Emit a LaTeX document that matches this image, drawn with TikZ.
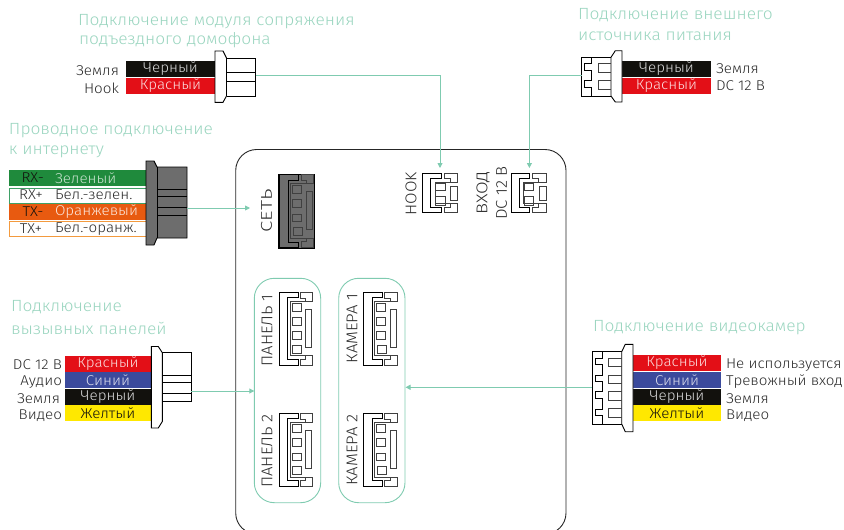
\documentclass[tikz,border=0pt]{standalone}
\usepackage{fontspec}
\usepackage{graphicx}
\setmainfont[FakeStretch=1.07]{Fira Sans Light}
\usetikzlibrary{arrows.meta}
\definecolor{mint}{HTML}{7FCBB0}
\definecolor{minttxt}{HTML}{9AD5BF}
\definecolor{wblack}{HTML}{12110D}
\definecolor{wred}{HTML}{E30F17}
\definecolor{wblue}{HTML}{3B4A9C}
\definecolor{wyellow}{HTML}{FFE800}
\definecolor{wgreen}{HTML}{1F8A3C}
\definecolor{worange}{HTML}{E85A10}
\definecolor{oline}{HTML}{F39A3E}
\definecolor{gline}{HTML}{3FA066}
\definecolor{plug}{HTML}{6D6D6D}
\definecolor{ink}{HTML}{2B2B2B}
\tikzset{
  every node/.style={inner sep=0pt,outer sep=0pt},
  title/.style={anchor=west,text=minttxt,yshift=-1.5pt,font=\fontsize{16.2}{16.2}\selectfont},
  lab/.style={text=ink,font=\fontsize{14.2}{14.2}\selectfont},
  labr/.style={lab,anchor=east,yshift=-1pt},
  labl/.style={lab,anchor=west,yshift=-1pt},
  wirebox/.style={minimum width=#1,minimum height=16pt,font=\fontsize{14.2}{14.2}\selectfont},
  wirebox/.default=89pt,
  port/.style={text=ink,rotate=90,font=\fontsize{15.6}{15.6}\selectfont},
  link/.style={draw=mint,line width=0.9pt,-{Triangle[length=5pt,width=5pt]}},
  part/.style={draw=black,line width=0.9pt,line join=miter},
  thin part/.style={draw=black!75,line width=0.8pt},
  group/.style={draw=mint,line width=0.9pt,rounded corners=20pt},
}
\newcommand{\sockfour}[3]{%
\begin{scope}[shift={(#1,#2)},#3]
 \draw[part] (0,0)--(19.3,0)--(19.3,5.5)--(8.7,5.5)--(8.7,67.5)--(19.3,67.5)--(19.3,73)--(0,73)--cycle;
 \draw[thin part] (21.3,0)--(33.7,0)--(33.7,9.3)--(26.7,9.3)--(26.7,6)--(21.3,6)--cycle;
 \draw[thin part] (21.3,73)--(33.7,73)--(33.7,63.7)--(26.7,63.7)--(26.7,67)--(21.3,67)--cycle;
 \draw[thin part] (26.7,9.3)--(11.5,9.3)--(11.5,63.7)--(26.7,63.7);
 \draw[thin part] (26.7,17.3) rectangle (32.7,55.3);
 \draw[thin part] (13,11.3) rectangle (22,19.3);
 \draw[thin part] (13,25.3) rectangle (22,33.3);
 \draw[thin part] (13,39.7) rectangle (22,47.3);
 \draw[thin part] (13.7,53.3) rectangle (22.7,61.3);
\end{scope}}
\newcommand{\socktwo}[2]{%
\begin{scope}[shift={(#1,#2)}]
 \draw[part] (0,0)--(18.3,0)--(18.3,5.4)--(8,5.4)--(8,33.9)--(18.3,33.9)--(18.3,39.4)--(0,39.4)--cycle;
 \draw[thin part] (21.6,0)--(35,0)--(35,9)--(27.3,9)--(27.3,5.4)--(21.6,5.4)--cycle;
 \draw[thin part] (21.6,39.4)--(35,39.4)--(35,30.4)--(27.3,30.4)--(27.3,34)--(21.6,34)--cycle;
 \draw[thin part] (27.3,9)--(12.3,9)--(12.3,30.4)--(27.3,30.4);
 \draw[thin part] (28,13.4) rectangle (35,26.7);
 \draw[thin part] (13,10) rectangle (22.3,17.4);
 \draw[thin part] (13,23.4) rectangle (22.3,31.7);
\end{scope}}
\begin{document}
\begin{tikzpicture}[x=1pt,y=-1pt]
\useasboundingbox (0,0) rectangle (844,530);
\clip (0,0) rectangle (844,530);

% main housing
\draw[line width=0.9pt,draw=black!85,rounded corners=21pt] (235.7,149.5) rectangle (566,534);
\draw[group] (254.3,278.3) rectangle (320.7,502.7);
\draw[group] (338.7,278.3) rectangle (405,502.7);

% titles
\node[title] (t1a) at (78,20) {Подключение модуля сопряжения};
\node[title] (t1b) at (79,38.5) {подъездного домофона};
\node[title] (t2a) at (578,13.5) {Подключение внешнего};
\node[title] (t2b) at (578,34.5) {источника питания};
\node[title] (t3a) at (9,129) {Проводное подключение};
\node[title] (t3b) at (9,150) {к интернету};
\node[title] (t4a) at (11,305.5) {Подключение};
\node[title] (t4b) at (11,327) {вызывных панелей};
\node[title] (t5) at (593,326.5) {Подключение видеокамер};

% intercom module plug
\node[wirebox,fill=wblack,text=white!85!black] (a1) at (170.5,69) {Черный};
\node[wirebox,fill=wred,text=white!85!wred] (a2) at (170.5,86) {Красный};
\node[labr] (a1l) at (119,70) {Земля};
\node[labr] (a2l) at (119,87) {Hook};
\draw[part,fill=white] (215,51)--(223,51)--(226.5,58)--(226.5,96)--(223,102.3)--(215,102.3)--cycle;
\draw[part] (226.5,58)--(255.5,58)--(255.5,96)--(226.5,96) (226.5,72.5)--(255.5,72.5) (226.5,81)--(255.5,81);
\coordinate (aout) at (255.5,75);

% power plug
\node[wirebox,fill=wblack,text=white!85!black] (b1) at (666.5,69) {Черный};
\node[wirebox,fill=wred,text=white!85!wred] (b2) at (666.5,86) {Красный};
\node[labl] (b1l) at (716,67.5) {Земля};
\node[labl] (b2l) at (716,84.5) {DC 12 В};
\draw[part,fill=white] (611,57.3)--(615.3,50.7)--(622,50.7)--(622,102)--(615.3,102)--(611,96)--cycle;
\draw[part] (611,57.3)--(581.7,57.3)--(581.7,96)--(611,96);
\draw[part] (591.7,57.3)--(591.7,63.3)--(584.3,63.3)--(584.3,70.7)--(591.7,70.7)--(591.7,80)--(584.3,80)--(584.3,87.3)--(591.7,87.3)--(591.7,96);
\draw[thin part] (611,63.3)--(598.3,63.3)--(598.3,72.7)--(611,72.7) (611,80)--(598.3,80)--(598.3,89.3)--(611,89.3);
\coordinate (bout) at (581.7,75);

% network plug
\fill[wgreen] (9,170) rectangle (146,186);
\draw[gline,line width=0.9pt,fill=white] (9.5,188.5) rectangle (146,203);
\fill[worange] (9,204) rectangle (146,220);
\draw[oline,line width=0.9pt,fill=white] (9.5,221.5) rectangle (146,236.5);
\node[lab,text=wblack] (c1a) at (32.7,178) {RX-};
\node[labl,text=white!75!wgreen,yshift=1pt] (c1b) at (55,178) {Зеленый};
\node[lab] (c2a) at (31,195) {RX+};
\node[labl,yshift=1pt] (c2b) at (55,195) {Бел.-зелен.};
\node[lab,text=wblack] (c3a) at (33,212) {TX-};
\node[labl,text=white!85!worange,yshift=1pt] (c3b) at (55,212) {Оранжевый};
\node[lab] (c4a) at (31,229) {TX+};
\node[labl,yshift=1pt] (c4b) at (55,229) {Бел.-оранж.};
\draw[part,fill=plug] (146,161)--(154,161)--(157,167)--(187,167)--(187,238)--(157,238)--(154,245)--(146,245)--cycle;
\draw[part] (157,167)--(157,238);
\draw[part] (157,189.3)--(187,189.3) (157,196.7)--(187,196.7) (157,207.3)--(187,207.3) (157,215)--(187,215);
\coordinate (cout) at (187,208);

% call panel plug
\node[wirebox=86pt,fill=wred,text=white!85!wred] (d1) at (108,364) {Красный};
\node[wirebox=86pt,fill=wblue,text=white!80!wblue] (d2) at (108,380) {Синий};
\node[wirebox=86pt,fill=wblack,text=white!85!black] (d3) at (108,397) {Черный};
\node[wirebox=86pt,fill=wyellow,text=wblack] (d4) at (108,413) {Желтый};
\node[labr] (d1l) at (62,364) {DC 12 В};
\node[labr] (d2l) at (62,381) {Аудио};
\node[labr] (d3l) at (60,398) {Земля};
\node[labr] (d4l) at (62,415) {Видео};
\draw[part,fill=white] (151.3,346.5)--(158.3,346.5)--(162.3,352.7)--(162.3,421.5)--(158.3,428)--(151.3,428)--cycle;
\draw[part] (162.3,352.7)--(191,352.7)--(191,401)--(162.3,401);
\draw[part] (162.3,375)--(191,375) (162.3,382.3)--(191,382.3) (162.3,393.3)--(191,393.3);
\coordinate (dout) at (191,391);

% camera plug
\node[wirebox=88pt,fill=wred,text=white!85!wred] (e1) at (677,363) {Красный};
\node[wirebox=88pt,fill=wblue,text=white!80!wblue] (e2) at (677,380) {Синий};
\node[wirebox=88pt,fill=wblack,text=white!85!black] (e3) at (677,396.7) {Черный};
\node[wirebox=88pt,fill=wyellow,text=wblack] (e4) at (677,413) {Желтый};
\node[labl] (e1l) at (726,364) {Не используется};
\node[labl] (e2l) at (726,381) {Тревожный вход};
\node[labl] (e3l) at (726,398) {Земля};
\node[labl] (e4l) at (726,415) {Видео};
\draw[part,fill=white] (621.7,351.7)--(625.3,344.3)--(633,344.3)--(633,431.7)--(625.3,431.7)--(621.7,424)--cycle;
\draw[part] (621.7,351.7)--(592,351.7)--(592,424)--(621.7,424);
\draw[part] (602,351.7)--(602,358.3)--(595.3,358.3)--(595.3,364.3)--(602,364.3)--(602,375)--(595.3,375)--(595.3,381.7)--(602,381.7)--(602,391.7)--(595.3,391.7)--(595.3,398.3)--(602,398.3)--(602,409)--(595.3,409)--(595.3,415)--(602,415)--(602,424);
\draw[thin part] (621.7,358.3)--(608.7,358.3)--(608.7,366.7)--(621.7,366.7) (621.7,375)--(608.7,375)--(608.7,383.3)--(621.7,383.3) (621.7,391.7)--(608.7,391.7)--(608.7,400)--(621.7,400) (621.7,408.3)--(608.7,408.3)--(608.7,417.3)--(621.7,417.3);
\coordinate (eout) at (592,387.3);

% device ports
\draw[part,fill=plug] (278.5,174.2) rectangle (314,248);
\sockfour{279}{174.5}{xscale=1.03}
\sockfour{279}{292}{}
\sockfour{279}{413.3}{}
\sockfour{363.3}{292}{}
\sockfour{363.3}{413.3}{}
\socktwo{422.7}{173.3}
\socktwo{511}{173.3}

\node[port] (pset) at (266.5,211) {\scalebox{1.22}[1]{СЕТЬ}};
\node[port] (p1) at (267,330.5) {ПАНЕЛЬ 1};
\node[port] (p2) at (267,451) {ПАНЕЛЬ 2};
\node[port] (k1) at (352,328.5) {КАМЕРА 1};
\node[port] (k2) at (352,450) {КАМЕРА 2};
\node[port] (phook) at (411,194) {HOOK};
\node[port] (pvh) at (483,193) {\scalebox{1.1}[1]{ВХОД}};
\node[port] (pdc) at (501.5,193) {DC 12 В};

% targets
\coordinate (hookin) at (440,168);
\coordinate (powerin) at (529.4,168);
\coordinate (setin) at (250,208);
\coordinate (panelin) at (254.3,391);
\coordinate (camin) at (405.5,387.3);

\draw[link] (aout) -| (hookin);
\draw[link] (bout) -| (powerin);
\draw[link] (cout) -- (setin);
\draw[link] (dout) -- (panelin);
\draw[link] (eout) -- (camin);
\end{tikzpicture}
\end{document}
